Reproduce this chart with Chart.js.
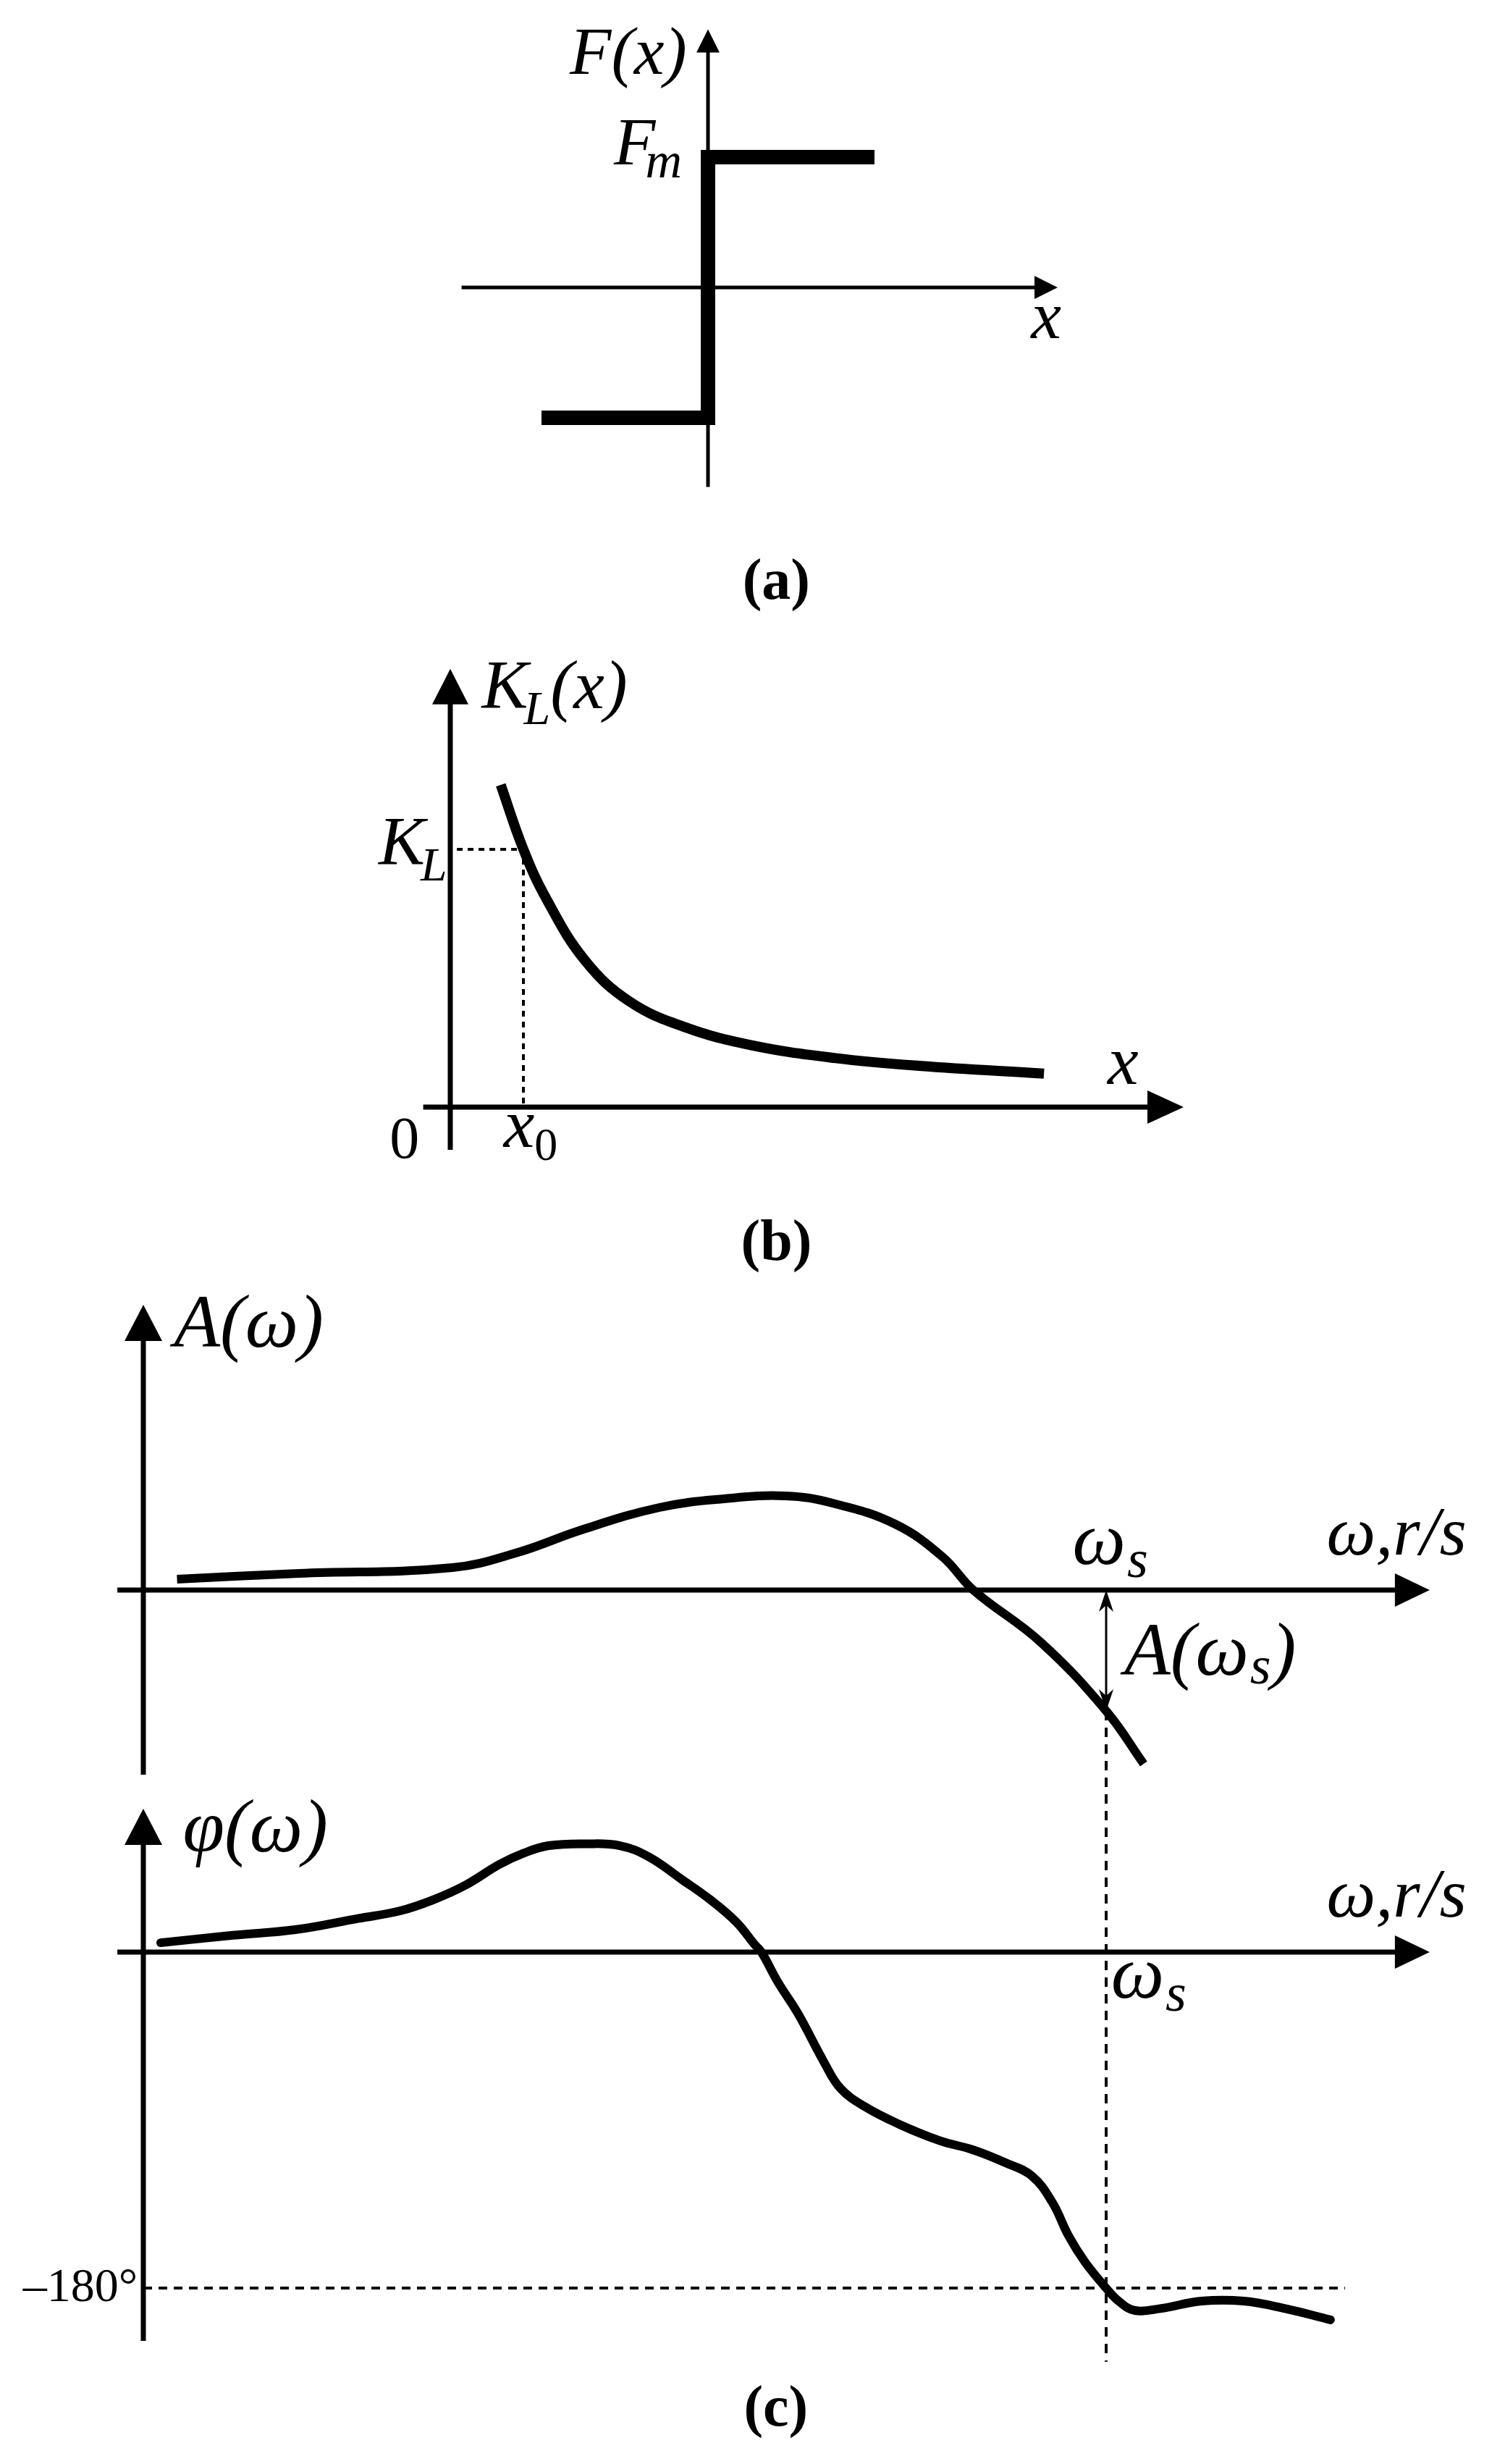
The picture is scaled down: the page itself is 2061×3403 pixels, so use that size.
<!DOCTYPE html>
<html lang="en">
<head>
<meta charset="UTF-8">
<title>F(x), K_L(x), A(ω), φ(ω)</title>
<script src="https://cdn.jsdelivr.net/npm/chart.js"></script>
<style>
  html, body { margin: 0; padding: 0; background: #fff; }
  body { width: 2061px; height: 3403px; position: relative; overflow: hidden; }
  canvas { position: absolute; left: 0; }
</style>
</head>
<body>
<canvas id="chartA" width="2061" height="880" style="top:0px"></canvas>
<canvas id="chartB" width="2061" height="900" style="top:880px"></canvas>
<canvas id="chartC" width="2061" height="1623" style="top:1780px"></canvas>
<script>
// (a) relay characteristic, Fm = 1
const relayX = [-1, 0, 0, 1];
const relayY = [-1, -1, 1, 1];

// (b) K_L(x), scaled so that x0 = 1 and K_L(x0) = 1
const klX = [0.69, 1.0, 1.31, 1.84, 2.45, 3.21, 4.12, 5.27, 6.41, 8.12];
const klY = [1.25, 1.0, 0.81, 0.57, 0.41, 0.31, 0.24, 0.19, 0.16, 0.13];
const x0 = 1, kL = 1;

// (c) frequency axis scaled so that ωs = 10
const omegaS = 10;
const ampW = [0.35, 1.62, 3.21, 3.89, 4.55, 5.36, 6.03, 6.67, 7.16, 7.81, 8.30, 8.62, 9.32, 10.0, 10.39];
const ampA = [0.15, 0.23, 0.31, 0.52, 0.83, 1.14, 1.26, 1.30, 1.20, 0.91, 0.46, 0, -0.72, -1.67, -2.40];
const ampAtS = -1.67;

const phW = [0.18, 0.93, 1.58, 2.23, 2.66, 3.01, 3.35, 3.70, 3.95, 4.21, 4.60, 4.95, 5.25, 5.59, 5.89,
             6.16, 6.35, 6.42, 6.59, 6.80, 7.07, 7.24, 7.50, 7.84, 8.27, 8.62, 8.96, 9.23, 9.44, 9.61,
             9.78, 10.0, 10.13, 10.30, 10.56, 10.99, 11.43, 11.86, 12.33];
const phDeg = [5, 9, 12, 18, 22, 28, 36, 47, 53, 57, 58, 57, 51, 39, 28,
               16, 4, 0, -16, -33, -59, -73, -83, -92, -101, -106, -113, -120, -134, -152,
               -166, -180, -187, -192, -191, -187, -187, -191, -197];
const phaseLevel = -180;

const SERIF = "'Liberation Serif', 'Times New Roman', serif";

// scale range so that value 0 lands at a given pixel of the canvas
function spanX(size, origin, perUnit) { return { min: -origin / perUnit, max: (size - origin) / perUnit }; }
function spanY(size, origin, perUnit) { return { min: (origin - size) / perUnit, max: origin / perUnit }; }

function toPx(chart, p) {
  const ys = p[2] || 'y';
  return [chart.scales.x.getPixelForValue(p[0]), chart.scales[ys].getPixelForValue(p[1])];
}

function head(ctx, tip, from, h) {
  const dx = tip[0] - from[0], dy = tip[1] - from[1], d = Math.hypot(dx, dy);
  const ux = dx / d, uy = dy / d;
  const len = h[0], wid = h[1], notch = h[2] || 0;
  const bx = tip[0] - ux * len, by = tip[1] - uy * len;
  ctx.beginPath();
  ctx.moveTo(tip[0], tip[1]);
  ctx.lineTo(bx - uy * wid / 2, by + ux * wid / 2);
  ctx.lineTo(tip[0] - ux * len * (1 - notch), tip[1] - uy * len * (1 - notch));
  ctx.lineTo(bx + uy * wid / 2, by - ux * wid / 2);
  ctx.closePath();
  ctx.fill();
  return [tip[0] - ux * len * 0.7, tip[1] - uy * len * 0.7];
}

function drawPath(chart, g) {
  const ctx = chart.ctx;
  const pts = g.pts.map(p => toPx(chart, p));
  ctx.save();
  ctx.strokeStyle = '#000';
  ctx.fillStyle = '#000';
  ctx.lineWidth = g.width;
  ctx.lineCap = 'butt';
  const n = pts.length;
  const line = pts.slice();
  if (g.endHead) line[n - 1] = head(ctx, pts[n - 1], pts[n - 2], g.endHead);
  if (g.startHead) line[0] = head(ctx, pts[0], pts[1], g.startHead);
  ctx.setLineDash(g.dash || []);
  ctx.beginPath();
  line.forEach((p, i) => i ? ctx.lineTo(p[0], p[1]) : ctx.moveTo(p[0], p[1]));
  ctx.stroke();
  ctx.restore();
}

function drawLabel(chart, lab) {
  const ctx = chart.ctx;
  const [x, y] = toPx(chart, lab.at);
  const size = lab.size || 90;
  const sub = lab.sub || Math.round(size * 0.7);
  const drop = lab.drop || Math.round(size * 0.2);
  const weight = lab.weight || 'normal';
  const style = lab.style || 'italic';
  const pieces = lab.parts.map(p => {
    const kind = p[1] || '';
    const isSub = kind.startsWith('sub');
    const st = (kind === 'up' || kind === 'subup') ? 'normal' : style;
    const font = `${st} ${weight} ${isSub ? sub : size}px ${SERIF}`;
    ctx.font = font;
    return { t: p[0], font, dy: isSub ? drop : 0, kern: p[2] || 0, w: ctx.measureText(p[0]).width };
  });
  const total = pieces.reduce((s, p) => s + p.w + p.kern, 0);
  let cx = lab.align === 'center' ? x - total / 2 : lab.align === 'right' ? x - total : x;
  ctx.save();
  ctx.fillStyle = '#000';
  ctx.textBaseline = 'alphabetic';
  ctx.textAlign = 'left';
  pieces.forEach(p => {
    cx += p.kern;
    ctx.font = p.font;
    ctx.fillText(p.t, cx, y + p.dy);
    cx += p.w;
  });
  ctx.restore();
}

function sketch(extra) {
  return {
    id: 'sketch',
    beforeDatasetsDraw(chart) {
      (extra.guides || []).forEach(g => drawPath(chart, g));
      (extra.axes || []).forEach(a => drawPath(chart, a));
    },
    afterDatasetsDraw(chart) {
      (extra.marks || []).forEach(m => drawPath(chart, m));
      (extra.labels || []).forEach(l => drawLabel(chart, l));
    }
  };
}

const base = {
  responsive: false,
  animation: false,
  events: [],
  layout: { padding: 0 },
  plugins: { legend: { display: false }, tooltip: { enabled: false } },
  elements: { point: { radius: 0 } }
};

function pairs(xs, ys) { return xs.map((x, i) => ({ x, y: ys[i] })); }

// ---------- (a) ----------
new Chart(document.getElementById('chartA'), {
  type: 'line',
  data: {
    datasets: [{
      data: pairs(relayX, relayY),
      borderColor: '#000', borderWidth: 20, tension: 0,
      borderJoinStyle: 'miter', borderCapStyle: 'butt'
    }]
  },
  options: {
    ...base,
    scales: {
      x: { type: 'linear', display: false, ...spanX(2061, 978, 230) },
      y: { type: 'linear', display: false, ...spanY(880, 397, 180) }
    }
  },
  plugins: [sketch({
    axes: [
      { pts: [[-1.48, 0], [2.10, 0]], width: 5, endHead: [32, 32] },
      { pts: [[0, -1.53], [0, 1.98]], width: 5, endHead: [32, 32] }
    ],
    labels: [
      { at: [-0.83, 1.64], parts: [['F(x)']], size: 94 },
      { at: [-0.565, 0.944], parts: [['F'], ['m', 'sub', -14]], size: 94, sub: 70, drop: 18 },
      { at: [1.94, -0.39], parts: [['x']], size: 94 },
      { at: [0.41, -2.39], parts: [['(a)', 'up']], size: 80, weight: 'bold', align: 'center' }
    ]
  })]
});

// ---------- (b) ----------
new Chart(document.getElementById('chartB'), {
  type: 'line',
  data: {
    datasets: [{
      data: pairs(klX, klY),
      borderColor: '#000', borderWidth: 14,
      tension: 0.4, borderCapStyle: 'butt'
    }]
  },
  options: {
    ...base,
    scales: {
      x: { type: 'linear', display: false, ...spanX(2061, 622, 101) },
      y: { type: 'linear', display: false, ...spanY(900, 649, 356) }
    }
  },
  plugins: [sketch({
    guides: [
      { pts: [[0.09, kL], [x0, kL], [x0, 0]], width: 4, dash: [8, 7] }
    ],
    axes: [
      { pts: [[-0.37, 0], [10.03, 0]], width: 7, endHead: [50, 46] },
      { pts: [[0, -0.166], [0, 1.70]], width: 7, endHead: [49, 50] }
    ],
    labels: [
      { at: [0.43, 1.548], parts: [['K'], ['L', 'sub', -6], ['(x)']], size: 96, sub: 66, drop: 22 },
      { at: [-0.98, 0.94], parts: [['K'], ['L', 'sub', -6]], size: 96, sub: 66, drop: 22 },
      { at: [8.99, 0.09], parts: [['x']], size: 96 },
      { at: [-0.83, -0.197], parts: [['0', 'up']], size: 82 },
      { at: [0.73, -0.155], parts: [['x'], ['0', 'subup']], size: 96, sub: 64, drop: 18 },
      { at: [4.46, -0.593], parts: [['(b)', 'up']], size: 80, weight: 'bold', align: 'center' }
    ]
  })]
});

// ---------- (c) ----------
new Chart(document.getElementById('chartC'), {
  type: 'line',
  data: {
    datasets: [
      {
        data: pairs(ampW, ampA), yAxisID: 'yA',
        borderColor: '#000', borderWidth: 12,
        tension: 0.4, borderCapStyle: 'butt'
      },
      {
        data: pairs(phW, phDeg), yAxisID: 'yP',
        borderColor: '#000', borderWidth: 12,
        tension: 0.4, borderCapStyle: 'round'
      }
    ]
  },
  options: {
    ...base,
    scales: {
      x: { type: 'linear', display: false, ...spanX(2061, 198, 133) },
      yA: { type: 'linear', display: false, position: 'left', ...spanY(1623, 416, 100) },
      yP: { type: 'linear', display: false, position: 'left', ...spanY(1623, 916, 2.578) }
    }
  },
  plugins: [sketch({
    guides: [
      { pts: [[omegaS, ampAtS, 'yA'], [omegaS, -219.5, 'yP']], width: 4, dash: [13, 10] },
      { pts: [[0, phaseLevel, 'yP'], [12.48, phaseLevel, 'yP']], width: 4, dash: [12, 9] }
    ],
    axes: [
      { pts: [[-0.27, 0, 'yA'], [13.36, 0, 'yA']], width: 7, endHead: [48, 46] },
      { pts: [[0, -2.55, 'yA'], [0, 3.94, 'yA']], width: 7, endHead: [50, 52] },
      { pts: [[-0.27, 0, 'yP'], [13.36, 0, 'yP']], width: 7, endHead: [48, 46] },
      { pts: [[0, -208.3, 'yP'], [0, 76.8, 'yP']], width: 7, endHead: [50, 52] }
    ],
    marks: [
      { pts: [[omegaS, 0, 'yA'], [omegaS, ampAtS, 'yA']], width: 3,
        startHead: [30, 20, 0.3], endHead: [30, 20, 0.3] }
    ],
    labels: [
      { at: [0.32, 3.36, 'yA'], parts: [['A(ω)']], size: 104 },
      { at: [9.65, 0.36, 'yA'], parts: [['ω'], ['s', 'sub', 2]], size: 104, sub: 74, drop: 18 },
      { at: [10.19, -1.17, 'yA'], parts: [['A(ω'], ['s', 'sub', 2], [')']], size: 104, sub: 74, drop: 12 },
      { at: [12.29, 0.49, 'yA'], parts: [['ω,r/s']], size: 96 },
      { at: [0.41, 53.9, 'yP'], parts: [['φ(ω)']], size: 104 },
      { at: [12.29, 19.0, 'yP'], parts: [['ω,r/s']], size: 96 },
      { at: [10.05, -24.4, 'yP'], parts: [['ω'], ['s', 'sub', 2]], size: 104, sub: 74, drop: 18 },
      { at: [-0.06, -187, 'yP'], parts: [['–180°', 'up']], size: 66, align: 'right' },
      { at: [6.57, -253.7, 'yP'], parts: [['(c)', 'up']], size: 80, weight: 'bold', align: 'center' }
    ]
  })]
});
</script>
</body>
</html>
